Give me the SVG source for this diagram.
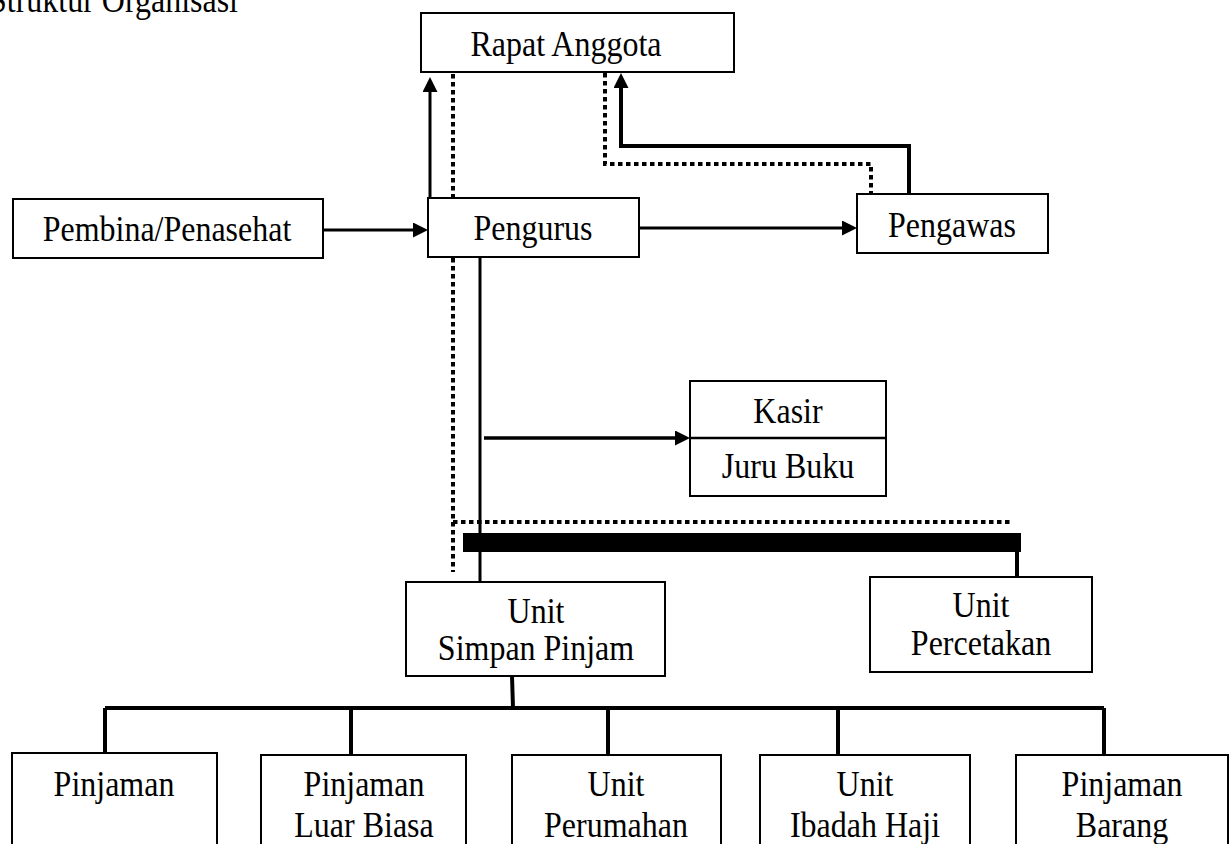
<svg xmlns="http://www.w3.org/2000/svg" width="1230" height="844" viewBox="0 0 1230 844">
<style>
.box{fill:#fff;stroke:#000;stroke-width:2}
.t{font-family:"Liberation Serif","Times New Roman",serif;font-size:35px;fill:#000;text-anchor:middle}
.ln{fill:none;stroke:#000;stroke-width:3}
.thick{fill:none;stroke:#000;stroke-width:4}
.dot{fill:none;stroke:#000;stroke-width:4;stroke-dasharray:4.5 3.5}
</style>
<defs>
<marker id="ah" viewBox="0 0 10 10" refX="0" refY="5" markerWidth="15" markerHeight="15" markerUnits="userSpaceOnUse" orient="auto"><path d="M0,0 L10,5 L0,10 z" fill="#000"/></marker>
</defs>
<rect width="1230" height="844" fill="#fff"/>
<text class="t" style="text-anchor:start" transform="translate(-11,12) scale(0.914,1)">Struktur Organisasi</text>

<g id="connectors">
<path class="ln" d="M323,230 H413" marker-end="url(#ah)"/>
<path class="ln" d="M639,228 H842" marker-end="url(#ah)"/>
<path class="ln" d="M430,198 V92" marker-end="url(#ah)"/>
<path class="thick" d="M909,194 V146 H621 V88" marker-end="url(#ah)"/>
<path class="dot" d="M605,73 V164 H871 V193"/>
<path class="dot" d="M453,74 V572"/>
<path class="dot" d="M453,522 H1012"/>
<path class="ln" d="M480,257 V582"/>
<path class="ln" style="stroke-width:3.5" d="M484,438 H675" marker-end="url(#ah)"/>
<rect x="463" y="533" width="558" height="19" fill="#000"/>
<path class="thick" d="M1017,552 V577"/>
<path class="thick" d="M512,676 L513,708"/>
<path class="thick" d="M105,708 H1104"/>
<path class="thick" d="M105,708 V753"/>
<path class="thick" d="M351,708 V755"/>
<path class="thick" d="M608,708 V755"/>
<path class="thick" d="M838,708 V755"/>
<path class="thick" d="M1104,708 V755"/>
</g>

<g id="rapat-anggota"><rect class="box" x="421" y="13" width="313" height="59"/><text class="t" transform="translate(566,56) scale(0.914,1)">Rapat Anggota</text></g>
<g id="pembina"><rect class="box" x="13" y="199" width="310" height="59"/><text class="t" transform="translate(167,241) scale(0.914,1)">Pembina/Penasehat</text></g>
<g id="pengurus"><rect class="box" x="428" y="198" width="211" height="59"/><text class="t" transform="translate(533,240) scale(0.914,1)">Pengurus</text></g>
<g id="pengawas"><rect class="box" x="857" y="194" width="191" height="59"/><text class="t" transform="translate(952,237) scale(0.914,1)">Pengawas</text></g>
<g id="kasir-juru-buku"><rect class="box" x="690" y="381" width="196" height="115"/><line x1="690" y1="438" x2="886" y2="438" stroke="#000" stroke-width="2.5"/><text class="t" transform="translate(788,423) scale(0.914,1)">Kasir</text><text class="t" transform="translate(788,478) scale(0.914,1)">Juru Buku</text></g>
<g id="unit-simpan-pinjam"><rect class="box" x="406" y="582" width="259" height="94"/><text class="t" transform="translate(536,623) scale(0.914,1)">Unit</text><text class="t" transform="translate(536,660) scale(0.914,1)">Simpan Pinjam</text></g>
<g id="unit-percetakan"><rect class="box" x="870" y="577" width="222" height="95"/><text class="t" transform="translate(981,617) scale(0.914,1)">Unit</text><text class="t" transform="translate(981,655) scale(0.914,1)">Percetakan</text></g>
<g id="pinjaman"><rect class="box" x="12" y="753" width="205" height="100"/><text class="t" transform="translate(114,796) scale(0.914,1)">Pinjaman</text></g>
<g id="pinjaman-luar-biasa"><rect class="box" x="261" y="755" width="205" height="100"/><text class="t" transform="translate(364,796) scale(0.914,1)">Pinjaman</text><text class="t" transform="translate(364,837) scale(0.914,1)">Luar Biasa</text></g>
<g id="unit-perumahan"><rect class="box" x="512" y="755" width="209" height="100"/><text class="t" transform="translate(616,796) scale(0.914,1)">Unit</text><text class="t" transform="translate(616,837) scale(0.914,1)">Perumahan</text></g>
<g id="unit-ibadah-haji"><rect class="box" x="760" y="755" width="210" height="100"/><text class="t" transform="translate(865,796) scale(0.914,1)">Unit</text><text class="t" transform="translate(865,837) scale(0.914,1)">Ibadah Haji</text></g>
<g id="pinjaman-barang"><rect class="box" x="1016" y="755" width="212" height="100"/><text class="t" transform="translate(1122,796) scale(0.914,1)">Pinjaman</text><text class="t" transform="translate(1122,837) scale(0.914,1)">Barang</text></g>
</svg>
